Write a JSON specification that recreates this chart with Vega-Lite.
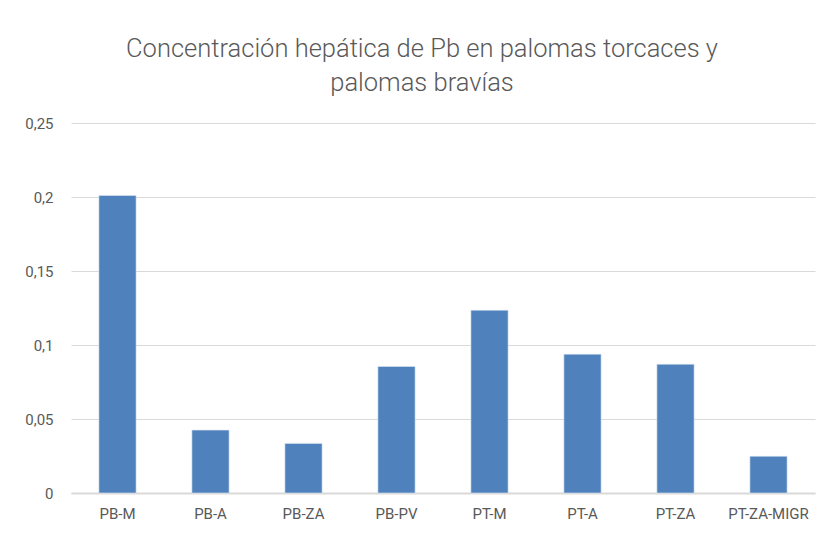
{
  "$schema": "https://vega.github.io/schema/vega-lite/v6.json",
  "width": 744,
  "height": 370,
  "autosize": {"type": "none"},
  "padding": {"left": 71, "top": 123, "right": 14, "bottom": 40},
  "background": "white",
  "title": {
    "text": ["Concentración hepática de Pb en palomas torcaces y", "palomas bravías"],
    "font": "Roboto",
    "fontSize": 25.5,
    "fontWeight": 300,
    "color": "#595959",
    "anchor": "middle",
    "lineHeight": 34,
    "offset": 20,
    "dx": -21
  },
  "data": {
    "values": [
      {"grupo": "PB-M", "pb": 0.201},
      {"grupo": "PB-A", "pb": 0.0425},
      {"grupo": "PB-ZA", "pb": 0.0335},
      {"grupo": "PB-PV", "pb": 0.0855},
      {"grupo": "PT-M", "pb": 0.1235},
      {"grupo": "PT-A", "pb": 0.0938},
      {"grupo": "PT-ZA", "pb": 0.087},
      {"grupo": "PT-ZA-MIGR", "pb": 0.0248}
    ]
  },
  "mark": {"type": "bar", "color": "#4F81BD", "stroke": "#dbe5f1", "strokeWidth": 0.6},
  "encoding": {
    "x": {
      "field": "grupo",
      "type": "nominal",
      "sort": null,
      "title": null,
      "scale": {"paddingInner": 0.6, "paddingOuter": 0.3},
      "axis": {
        "labelAngle": 0,
        "labelFont": "Roboto",
        "labelFontSize": 15,
        "labelColor": "#595959",
        "labelPadding": 13,
        "ticks": false,
        "domainColor": "#d9d9d9",
        "domainWidth": 2,
        "grid": false
      }
    },
    "y": {
      "field": "pb",
      "type": "quantitative",
      "title": null,
      "scale": {"domain": [0, 0.25], "nice": false},
      "axis": {
        "values": [0, 0.05, 0.1, 0.15, 0.2, 0.25],
        "format": "~g",
        "labelExpr": "replace(datum.label, '.', ',')",
        "labelFont": "Roboto",
        "labelFontSize": 15,
        "labelColor": "#595959",
        "labelPadding": 18,
        "ticks": false,
        "domain": false,
        "grid": true,
        "gridColor": "#d9d9d9",
        "gridWidth": 1.2
      }
    }
  },
  "config": {"view": {"stroke": null}}
}
